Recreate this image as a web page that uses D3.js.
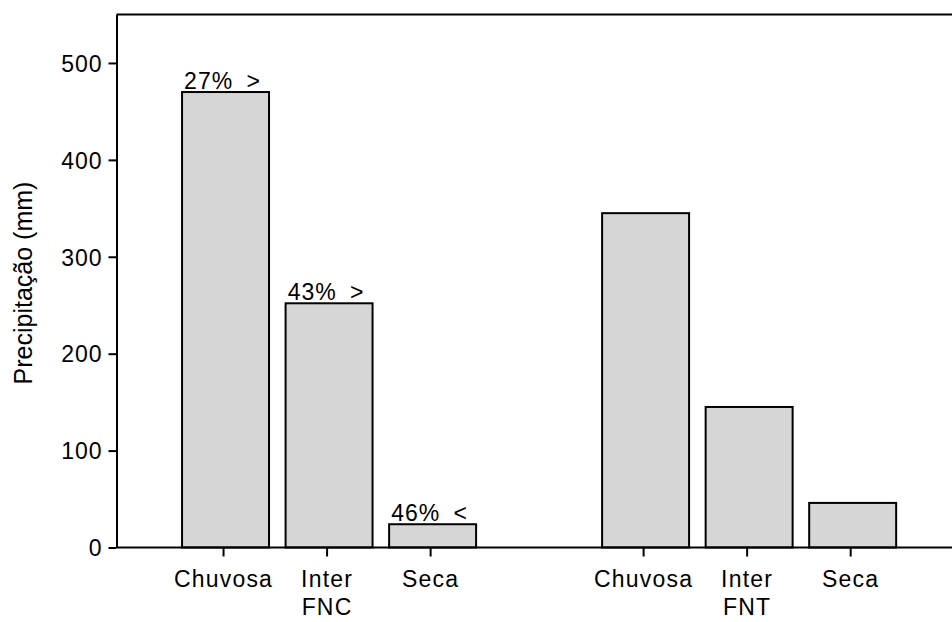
<!DOCTYPE html>
<html>
<head>
<meta charset="utf-8">
<script src="https://cdn.jsdelivr.net/npm/d3@7"></script>
<style>
  html, body { margin: 0; padding: 0; background: #fff; }
  svg { display: block; }
  text { font-family: "Liberation Sans", Arial, sans-serif; fill: #000; }
</style>
</head>
<body>
<svg id="chart" width="952" height="622"></svg>
<script>
// ---- data ----
const groups = ["FNC", "FNT"];
const seasons = ["Chuvosa", "Inter", "Seca"];
const fncValues = [470, 252, 24];
const fntValues = [345, 145, 46];
const fncNotes = ["27% >", "43% >", "46% <"];
const fntNotes = ["", "", ""];
const yTicks = [0, 100, 200, 300, 400, 500];
const yLabel = "Precipitação (mm)";

const rows = [];
groups.forEach((g, gi) => {
  const vals = gi === 0 ? fncValues : fntValues;
  const notes = gi === 0 ? fncNotes : fntNotes;
  seasons.forEach((s, si) => rows.push({ group: g, season: s, value: vals[si], note: notes[si] }));
});

// ---- layout ----
const mLeft = 116.5, mTop = 14.5, mBottom = 547.5, mRight = 952;
const svg = d3.select("#chart");

const y = d3.scaleLinear().domain([0, 550]).range([mBottom, mTop]);
const x0 = d3.scaleBand().domain(groups).range([mLeft, mRight])
  .paddingInner(0.3).paddingOuter(0.1445).align(0.54);
const x1 = d3.scaleBand().domain(seasons).range([0, x0.bandwidth()])
  .paddingInner(0.16).paddingOuter(0);

// bars
svg.append("g").selectAll("rect").data(rows).join("rect")
  .attr("x", d => x0(d.group) + x1(d.season))
  .attr("y", d => y(d.value))
  .attr("width", x1.bandwidth())
  .attr("height", d => y(0) - y(d.value))
  .attr("fill", "#d6d6d6")
  .attr("stroke", "#000")
  .attr("stroke-width", 2);

// notes above bars
svg.append("g").selectAll("text").data(rows.filter(d => d.note)).join("text")
  .attr("x", d => x0(d.group) + x1(d.season) + x1.bandwidth() / 2 - 3)
  .attr("y", d => y(d.value) - 3)
  .attr("text-anchor", "middle")
  .attr("font-size", 23)
  .attr("letter-spacing", 1)
  .attr("word-spacing", 6)
  .text(d => d.note);

// top frame line
svg.append("line")
  .attr("x1", mLeft).attr("x2", mRight)
  .attr("y1", mTop).attr("y2", mTop)
  .attr("stroke", "#000").attr("stroke-width", 2);

// y axis
const yAxis = svg.append("g")
  .attr("transform", `translate(${mLeft},0)`)
  .call(d3.axisLeft(y).tickValues(yTicks).tickSize(8).tickPadding(6).tickSizeOuter(0));
yAxis.select(".domain").attr("stroke", "#000").attr("stroke-width", 2);
yAxis.selectAll(".tick line").attr("stroke", "#000").attr("stroke-width", 2);
yAxis.selectAll(".tick text")
  .attr("font-family", "'Liberation Sans', Arial, sans-serif")
  .attr("font-size", 23).attr("letter-spacing", 1).attr("fill", "#000")
  .attr("dy", "0.36em");

// x axis baseline
svg.append("line")
  .attr("x1", mLeft).attr("x2", mRight)
  .attr("y1", mBottom).attr("y2", mBottom)
  .attr("stroke", "#000").attr("stroke-width", 2);

// x ticks and labels
const xg = svg.append("g");
rows.forEach(d => {
  const cx = x0(d.group) + x1(d.season) + x1.bandwidth() / 2 - 2;
  xg.append("line")
    .attr("x1", cx).attr("x2", cx)
    .attr("y1", mBottom).attr("y2", mBottom + 9)
    .attr("stroke", "#000").attr("stroke-width", 2);
  xg.append("text")
    .attr("x", cx).attr("y", 587)
    .attr("text-anchor", "middle")
    .attr("font-size", 23).attr("letter-spacing", 1.2)
    .text(d.season);
});
// group labels
xg.selectAll("text.group").data(groups).join("text")
  .attr("class", "group")
  .attr("x", g => x0(g) + x1("Inter") + x1.bandwidth() / 2 - 2)
  .attr("y", 615)
  .attr("text-anchor", "middle")
  .attr("font-size", 23).attr("letter-spacing", 1.2)
  .text(g => g);

// y label
svg.append("text")
  .attr("transform", `translate(32,283) rotate(-90)`)
  .attr("text-anchor", "middle")
  .attr("font-size", 25)
  .text(yLabel);
</script>
</body>
</html>
